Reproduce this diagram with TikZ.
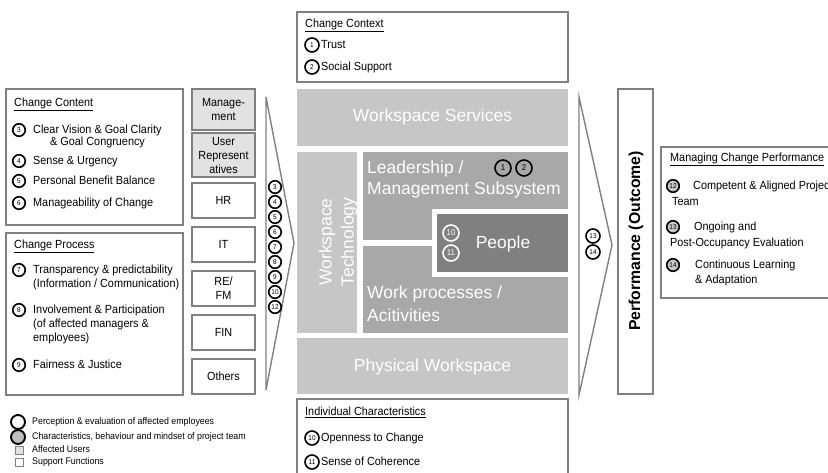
\documentclass[tikz,border=0pt]{standalone}
\usepackage{fontspec}
\setmainfont{Liberation Sans}
\newfontfamily\narrowsf{Liberation Sans}[FakeStretch=0.92]
\usepackage{tikz}

\definecolor{boxline}{HTML}{808080}
\definecolor{lightblock}{HTML}{C6C6C6}
\definecolor{midblock}{HTML}{A8A8A8}
\definecolor{darkblock}{HTML}{808080}
\definecolor{usergray}{HTML}{E2E2E2}

\newcommand{\itemfont}{\narrowsf\fontsize{11.8}{14}\selectfont}
\newcommand{\legendfont}{\narrowsf\fontsize{9.6}{11}\selectfont}
\newcommand{\numfont}{\narrowsf\fontsize{7}{8}\selectfont}
\newcommand{\bignumfont}{\narrowsf\fontsize{8.5}{10}\selectfont}
\newcommand{\blockfont}{\fontsize{17.5}{22}\selectfont}

\tikzset{
  frame/.style     = {draw=boxline, line width=1.3pt, fill=white},
  unitbox/.style   = {draw=boxline, line width=1.6pt, fill=white, minimum width=63pt,
                      minimum height=35pt, inner sep=0pt, align=center,
                      font=\itemfont},
  userbox/.style   = {unitbox, fill=usergray},
  chevron/.style   = {draw=boxline, line width=1.4pt},
  label/.style     = {anchor=west, inner sep=0pt, font=\itemfont,
                      text height=8.5pt, text depth=1.5pt},
  legend/.style    = {label, font=\legendfont, text height=7pt, text depth=1.5pt},
  num/.style       = {circle, draw=black, line width=1.6pt, fill=white,
                      inner sep=0pt, minimum size=12.5pt, font=\numfont},
  teamnum/.style   = {num, fill=black!22},
  bignum/.style    = {num, fill=none, minimum size=16pt, font=\bignumfont},
  peoplenum/.style = {bignum, draw=white, text=white},
  blocktext/.style = {inner sep=0pt, text=white, font=\blockfont, align=left},
}

\begin{document}
\begin{tikzpicture}[x=1pt, y=-1pt]

  \useasboundingbox (0,0) rectangle (828,472);

  % left: content and process
  \draw[frame] (6,89)  rectangle (183,225);
  \draw[frame] (6,233) rectangle (183,395);

  \node[label]   (content) at (14,103) {\underline{Change Content}};
  \node[num]     (n3)      at (19,130) {3};
  \node[label]   (t3)      at (33,130) {Clear Vision \& Goal Clarity};
  \node[label]   (t3b)     at (50,142) {\& Goal Congruency};
  \node[num]     (n4)      at (19,161) {4};
  \node[label]   (t4)      at (33,161) {Sense \& Urgency};
  \node[num]     (n5)      at (19,181) {5};
  \node[label]   (t5)      at (33,181) {Personal Benefit Balance};
  \node[num]     (n6)      at (19,203) {6};
  \node[label]   (t6)      at (33,203) {Manageability of Change};

  \node[label]   (process) at (14,245) {\underline{Change Process}};
  \node[num]     (n7)      at (19,270) {7};
  \node[label]   (t7)      at (33,270) {Transparency \& predictability};
  \node[label]   (t7b)     at (33,284) {(Information / Communication)};
  \node[num]     (n8)      at (19,310) {8};
  \node[label]   (t8)      at (33,310) {Involvement \& Participation};
  \node[label]   (t8b)     at (33,324) {(of affected managers \&};
  \node[label]   (t8c)     at (33,338) {employees)};
  \node[num]     (n9)      at (19,365) {9};
  \node[label]   (t9)      at (33,365) {Fairness \& Justice};

  % units
  \node[userbox, minimum height=41pt] (mgmt)   at (223.5,109.5) {Manage-\\ment};
  \node[userbox, minimum height=44pt] (users)  at (223.5,155)   {User\\Represent\\atives};
  \node[unitbox]                      (hr)     at (223.5,200.5) {HR};
  \node[unitbox]                      (it)     at (223.5,244.5) {IT};
  \node[unitbox]                      (refm)   at (223.5,288.5) {RE/\\FM};
  \node[unitbox]                      (fin)    at (223.5,332.5) {FIN};
  \node[unitbox]                      (others) at (223.5,376.5) {Others};

  % left chevron
  \draw[chevron] (266,97) -- (294,243) -- (266,390) -- cycle;
  \node[num] (in3)  at (275,187) {3};
  \node[num] (in4)  at (275,202) {4};
  \node[num] (in5)  at (275,217) {5};
  \node[num] (in6)  at (275,232) {6};
  \node[num] (in7)  at (275,247) {7};
  \node[num] (in8)  at (275,262) {8};
  \node[num] (in9)  at (275,277) {9};
  \node[num] (in10) at (275,292) {10};
  \node[num] (in12) at (275,307) {12};

  % centre: context
  \draw[frame] (297,12) rectangle (568,82);
  \node[label] (context) at (305,24) {\underline{Change Context}};
  \node[num, minimum size=14pt] (n1) at (312,45) {1};
  \node[label] (t1)      at (321,45) {Trust};
  \node[num, minimum size=14pt] (n2) at (312,67) {2};
  \node[label] (t2)      at (321,67) {Social Support};

  % centre: workspace blocks
  \fill[lightblock] (297,89)  rectangle (568,146);
  \fill[lightblock] (297,152) rectangle (357,333);
  \fill[midblock]   (363,152) rectangle (568,240);
  \fill[midblock]   (363,246) rectangle (568,333);
  \fill[white]      (432,209) rectangle (568,277);
  \fill[darkblock]  (437,214) rectangle (568,272);
  \fill[lightblock] (297,338) rectangle (568,394);

  \node[blocktext] (services)   at (432.5,117) {Workspace Services};
  \node[blocktext, rotate=90, align=center] (technology) at (338,242)
    {Workspace\\Technology};
  \node[blocktext, anchor=west] (leadership)  at (367,169) {Leadership /};
  \node[blocktext, anchor=west] (leadership2) at (367,190) {Management Subsystem};
  \node[bignum] (n1b) at (503,168) {1};
  \node[bignum] (n2b) at (524,168) {2};
  \node[blocktext] (people) at (503,244) {People};
  \node[peoplenum] (n10b) at (451,233) {10};
  \node[peoplenum] (n11b) at (451,253) {11};
  \node[blocktext, anchor=west] (work)  at (367,294) {Work processes /};
  \node[blocktext, anchor=west] (work2) at (367,315) {Acitivities};
  \node[blocktext] (physical) at (432.5,367) {Physical Workspace};

  % centre: individual characteristics
  \draw[frame] (297,399) rectangle (568,480);
  \node[label] (individual) at (305,412) {\underline{Individual Characteristics}};
  \node[num, minimum size=14pt] (n10) at (312,438) {10};
  \node[label] (t10)        at (321,438) {Openness to Change};
  \node[num, minimum size=14pt] (n11) at (312,462) {11};
  \node[label] (t11)        at (321,462) {Sense of Coherence};

  % right chevron and outcome
  \draw[chevron] (579,97) -- (612,245) -- (579,395) -- cycle;
  \node[num, minimum size=14pt] (out13) at (593,236) {13};
  \node[num, minimum size=14pt] (out14) at (593,252) {14};

  \draw[frame] (618,89) rectangle (653,394);
  \node[rotate=90, font=\bfseries\fontsize{15.8}{18}\selectfont] (performance)
    at (636,241) {Performance (Outcome)};

  % right: managing change performance
  \draw[frame] (661,147) rectangle (840,298);
  \node[label]   (managing) at (670,158) {\underline{Managing Change Performance}};
  \node[teamnum] (n12)      at (673,186) {12};
  \node[label]   (t12)      at (693,186) {Competent \& Aligned Project};
  \node[label]   (t12b)     at (672,202) {Team};
  \node[teamnum] (n13)      at (673,227) {13};
  \node[label]   (t13)      at (694,227) {Ongoing and};
  \node[label]   (t13b)     at (670,243) {Post-Occupancy Evaluation};
  \node[teamnum] (n14)      at (673,265) {14};
  \node[label]   (t14)      at (695,265) {Continuous Learning};
  \node[label]   (t14b)     at (695,280) {\& Adaptation};

  % legend
  \node[circle, draw=black, line width=1.9pt, minimum size=14pt] (keyown)
    at (18,422) {};
  \node[circle, draw=black, line width=1.9pt, fill=black!25, minimum size=14pt]
    (keyteam) at (18,437) {};
  \node[legend] (lown)  at (32,422) {Perception \& evaluation of affected employees};
  \node[legend] (lteam) at (32,437) {Characteristics, behaviour and mindset of project team};
  \node[draw=boxline, fill=usergray, minimum size=8pt, inner sep=0pt] (keyusers)
    at (19,450) {};
  \node[draw=boxline, fill=white, minimum size=8pt, inner sep=0pt] (keysupport)
    at (19,462) {};
  \node[legend] (lusers)   at (32,450) {Affected Users};
  \node[legend] (lsupport) at (32,462) {Support Functions};

\end{tikzpicture}
\end{document}
